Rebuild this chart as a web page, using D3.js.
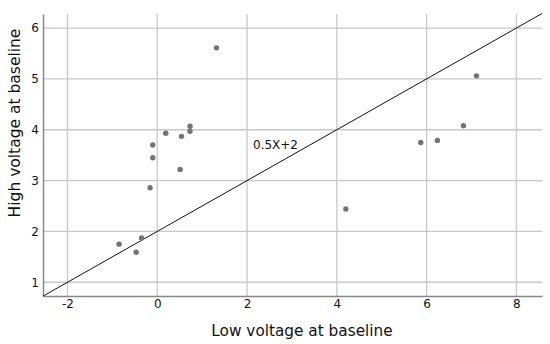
<!DOCTYPE html>
<html>
<head>
<meta charset="utf-8">
<script src="https://cdn.jsdelivr.net/npm/d3@7"></script>
<style>
body{margin:0;background:#fff}
text{font-family:"DejaVu Sans",Verdana,sans-serif}
</style>
</head>
<body>
<div id="chart"></div>
<script>
var lowVoltage = [1.32,0.73,0.73,0.54,0.19,-0.10,-0.10,0.51,-0.16,-0.85,-0.35,-0.47,7.11,6.82,6.24,5.87,4.20]
var highVoltage = [5.61,4.07,3.97,3.87,3.93,3.70,3.45,3.22,2.86,1.75,1.87,1.59,5.06,4.08,3.79,3.75,2.44]
var xTicks = [-2,0,2,4,6,8]
var yTicks = [1,2,3,4,5,6]
var fitSlope = 0.5
var fitIntercept = 2
var fitLabel = "0.5X+2"

var w = 550
var h = 344
var padLeft = 43, padRight = 542, padTop = 14, padBottom = 296

var xScale = d3.scaleLinear().domain([-2.545,8.57]).range([padLeft,padRight])
var yScale = d3.scaleLinear().domain([0.73,6.276]).range([padBottom,padTop])

var svg = d3.select("#chart").append("svg").attr("width",w).attr("height",h)

//grid
svg.selectAll(".vgrid")
    .data(xTicks)
    .enter()
    .append("line")
    .attr("class","vgrid")
    .attr("x1",function(d){return xScale(d)})
    .attr("x2",function(d){return xScale(d)})
    .attr("y1",padTop)
    .attr("y2",padBottom)
    .attr("stroke","#c8c8c8")
    .attr("stroke-width",1.3)
svg.selectAll(".hgrid")
    .data(yTicks)
    .enter()
    .append("line")
    .attr("class","hgrid")
    .attr("y1",function(d){return yScale(d)})
    .attr("y2",function(d){return yScale(d)})
    .attr("x1",padLeft)
    .attr("x2",padRight)
    .attr("stroke","#c8c8c8")
    .attr("stroke-width",1.3)

//axes
var fmt = function(d){return String(d)}
var xAxis = d3.axisBottom(xScale).tickValues(xTicks).tickFormat(fmt).tickSize(0).tickPadding(3)
var yAxis = d3.axisLeft(yScale).tickValues(yTicks).tickFormat(fmt).tickSize(0).tickPadding(4)
var gx = svg.append("g").attr("transform","translate(0,"+padBottom+")").call(xAxis)
var gy = svg.append("g").attr("transform","translate("+padLeft+",0)").call(yAxis)
gx.select(".domain").attr("stroke","#888").attr("stroke-width",1.5)
gy.select(".domain").attr("stroke","#888").attr("stroke-width",1.5)
svg.selectAll(".tick text").attr("font-size","12px").attr("fill","#111")
    .attr("font-family","'DejaVu Sans',sans-serif")

//fit line
var xd = xScale.domain()
svg.append("line")
    .attr("x1",xScale(xd[0]))
    .attr("y1",yScale(fitSlope*xd[0]+fitIntercept))
    .attr("x2",xScale(xd[1]))
    .attr("y2",yScale(fitSlope*xd[1]+fitIntercept))
    .attr("stroke","#111")
    .attr("stroke-width",1)

svg.append("text")
    .attr("x",253)
    .attr("y",148.5)
    .attr("font-size","12px")
    .attr("fill","#111")
    .text(fitLabel)

//points
svg.selectAll(".dot")
    .data(lowVoltage)
    .enter()
    .append("circle")
    .attr("class","dot")
    .attr("cx",function(d){return xScale(d)})
    .attr("cy",function(d,i){return yScale(highVoltage[i])})
    .attr("r",2.7)
    .attr("fill","#737373")

//axis titles
svg.append("text")
    .attr("x",302)
    .attr("y",336)
    .attr("text-anchor","middle")
    .attr("font-size","15.3px")
    .attr("fill","#111")
    .text("Low voltage at baseline")
svg.append("text")
    .attr("transform","translate(20,123) rotate(-90)")
    .attr("text-anchor","middle")
    .attr("font-size","15.5px")
    .attr("fill","#111")
    .text("High voltage at baseline")
</script>
</body>
</html>
